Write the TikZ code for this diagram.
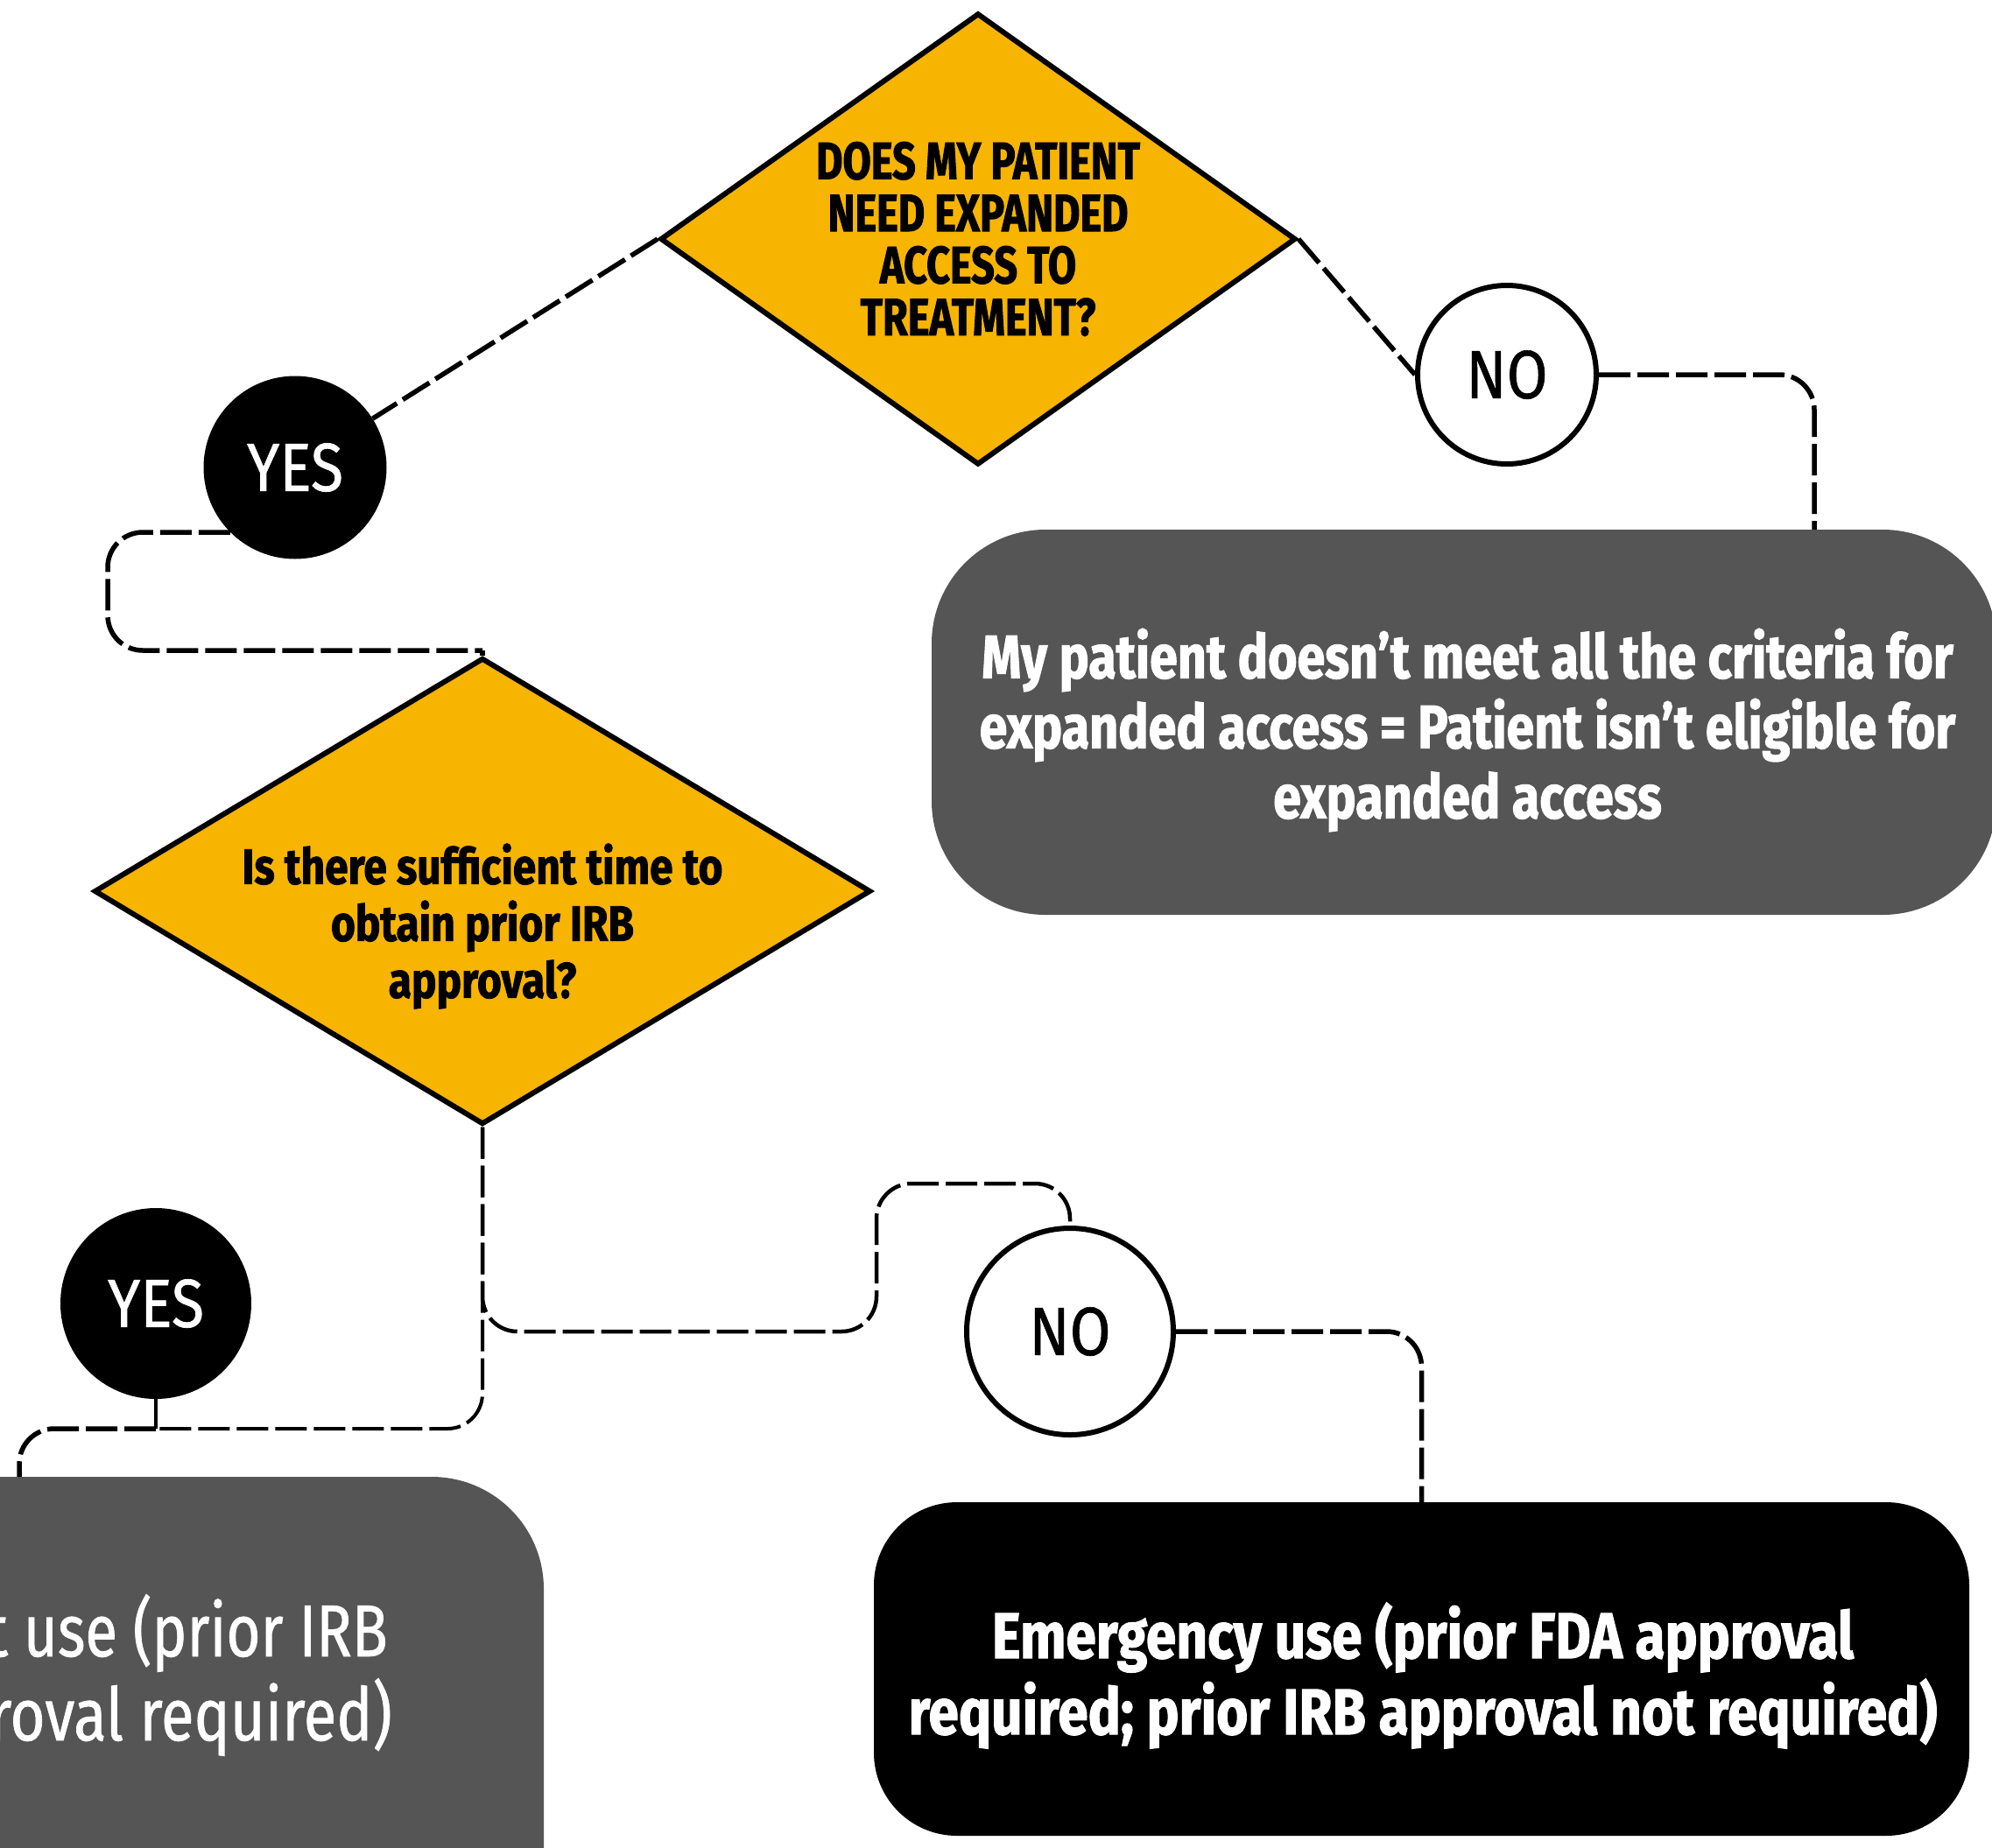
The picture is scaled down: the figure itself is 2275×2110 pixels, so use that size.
\documentclass[tikz,border=0pt]{standalone}
\usepackage{fontspec}
\setmainfont{Fira Sans}
\newfontfamily\condbold{Fira Sans}[FakeStretch=0.84, FakeBold=1.5]
\newfontfamily\condboldA{Fira Sans}[FakeStretch=0.82, FakeBold=1.5]
\newfontfamily\condcaps{Fira Sans}[FakeStretch=0.78, FakeBold=1.5]
\newfontfamily\condreg{Fira Sans}[FakeStretch=0.87, FakeBold=0.8]
\newfontfamily\condregA{Fira Sans}[FakeStretch=0.80, FakeBold=0.8]
\newfontfamily\condregB{Fira Sans}[FakeStretch=0.82, FakeBold=0.8]
\usetikzlibrary{shapes.geometric,calc}
\definecolor{gold}{RGB}{247,180,0}
\definecolor{slate}{RGB}{85,85,85}
\begin{document}
\begin{tikzpicture}[x=1pt,y=-1pt,
  conn/.style={draw=black, line width=5.5pt, dash pattern=on 36pt off 8pt, rounded corners=40pt},
  dia/.style={diamond, draw=black, line width=6pt, fill=gold, inner sep=0pt},
  yescirc/.style={circle, fill=black, inner sep=0pt, text=white, font=\condreg\fontsize{78}{80}\selectfont},
  nocirc/.style={circle, draw=black, line width=6pt, fill=white, inner sep=0pt, text=black, font=\condreg\fontsize{78}{80}\selectfont},
  diatext/.style={align=center, text=black},
  outbox/.style={rectangle, inner sep=0pt, text=white, align=center},
  boxtext/.style={align=center, text=white, inner sep=0pt}
]
\useasboundingbox (0,0) rectangle (2275,2110);
\clip (0,0) rectangle (2275,2110);

% diamonds
\node[dia, minimum width=726pt, minimum height=516pt] (d1) at (1117,273) {};
\node[diatext, font=\condcaps\bfseries\fontsize{60}{59.5}\selectfont] (d1t) at (1117,273) {DOES MY PATIENT\\NEED EXPANDED\\ACCESS TO\\TREATMENT?};
\node[dia, minimum width=887pt, minimum height=533pt] (d2) at (551,1018) {};
\node[diatext, font=\condbold\bfseries\fontsize{57}{65}\selectfont] (d2t) at (551,1058) {Is there sufficient time to\\obtain prior IRB\\approval?};

% circles
\node[yescirc, minimum size=209pt] (yes1) at (337,534) {YES};
\node[nocirc, minimum size=204pt] (no1) at (1721,428) {NO};
\node[yescirc, minimum size=218pt] (yes2) at (178,1489) {YES};
\node[nocirc, minimum size=236pt] (no2) at (1222,1521) {NO};

% outcome boxes
\node[outbox, fill=slate, rounded corners=130pt, minimum width=1216pt, minimum height=440pt] (b1) at (1672,825) {};
\node[boxtext, font=\condboldA\bfseries\fontsize{70}{80}\selectfont] (b1t) at (1676,834)
  {My patient doesn’t meet all the criteria for\\expanded access = Patient isn’t eligible for\\expanded access};
\node[outbox, fill=slate, rounded corners=128pt, minimum width=921pt, minimum height=613pt] (b2) at (160.5,1993.5) {};
\node[anchor=base east, text=white, inner sep=0pt, font=\condregA\fontsize{84}{95}\selectfont] (b2t1) at (443,1892)
  {t use (prior IRB};
\node[anchor=base east, text=white, inner sep=0pt, font=\condregB\fontsize{84}{95}\selectfont] (b2t2) at (448,1988)
  {roval required)};
\node[outbox, fill=black, rounded corners=95pt, minimum width=1251pt, minimum height=381pt] (b3) at (1623.5,1906.5) {};
\node[boxtext, font=\condbold\bfseries\fontsize{74}{87}\selectfont] (b3t) at (1625,1914)
  {Emergency use (prior FDA approval\\required; prior IRB approval not required)};

% helper coordinates
\coordinate (k1) at (123,743);
\coordinate (k1b) at (551,743);
\coordinate (k2) at (1001,1352);
\coordinate (jn) at (178,1632);

% connectors
\draw[conn] (d1.west) -- (yes1);
\draw[conn] (yes1.-135) -| (k1) -- (k1b);
\draw[conn] (k1b) -- (d2.north);
\draw[conn] (d1.east) -- (no1.west);
\draw[conn] (no1.east) -| ([xshift=400pt]b1.north);
\draw[conn, line width=4.5pt] (d2.south) |- (k2 |- no2) -- (k2) -| (no2.north);
\draw[conn] (no2.east) -| (b3.north);
\draw[conn, line width=4pt] (d2.south) |- (jn);
\draw[conn, line width=4pt, dash pattern=] (yes2.south) -- (jn);
\draw[conn] (jn) -| ([xshift=-138.5pt]b2.north);
\end{tikzpicture}
\end{document}
